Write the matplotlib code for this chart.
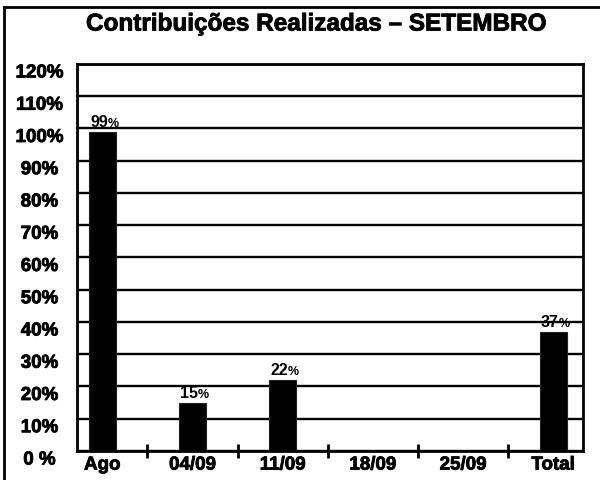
import matplotlib
matplotlib.use("Agg")
import matplotlib.pyplot as plt
import matplotlib.patheffects as pe
from matplotlib.lines import Line2D
from matplotlib.transforms import ScaledTranslation

plt.rcParams['font.family'] = ['Liberation Sans', 'DejaVu Sans']
plt.rcParams['font.weight'] = 'bold'

# Data
categories = ['Ago', '04/09', '11/09', '18/09', '25/09', 'Total']
values = [99, 15, 22, 0, 0, 37]
y_ticks = [0, 10, 20, 30, 40, 50, 60, 70, 80, 90, 100, 110, 120]
y_labels = ['0 %', '10%', '20%', '30%', '40%', '50%', '60%', '70%',
            '80%', '90%', '100%', '110%', '120%']
title = 'Contribuições Realizadas – SETEMBRO'

# slightly heavier text, like the scanned original
heavy = [pe.withStroke(linewidth=0.6, foreground='black')]

fig = plt.figure(figsize=(6, 4.81), dpi=100)
ax = fig.add_axes([0.1283, 0.0603, 0.8433, 0.8046])

x = list(range(len(categories)))
ax.bar(x, values, width=0.3, color='black', edgecolor='#222222', linewidth=0.8, zorder=3)

# bar labels, number with a smaller percent sign
for xi, v in zip(x, values):
    if v <= 0:
        continue
    ax.annotate(str(v), xy=(xi, v), xytext=(4, 4), textcoords='offset points',
                ha='right', va='baseline', fontsize=11.5, fontweight='bold', zorder=4)
    ax.annotate('%', xy=(xi, v), xytext=(4, 4), textcoords='offset points',
                ha='left', va='baseline', fontsize=9, fontweight='bold', zorder=4)

ax.set_xlim(-0.28, 5.33)
ax.set_ylim(0, 120)

# y axis: gridlines every 10%, labels a bit below the lines
ax.set_yticks(y_ticks)
ax.set_yticklabels(y_labels, fontsize=13.5, fontweight='bold', ha='center')
ax.tick_params(axis='y', length=0, pad=27)
shift = ScaledTranslation(0, -7 / 100, fig.dpi_scale_trans)
for lab in ax.get_yticklabels():
    lab.set_transform(lab.get_transform() + shift)
    lab.set_path_effects(heavy)
ax.yaxis.grid(True, color='black', linewidth=1.7, zorder=1)
ax.set_axisbelow(True)

# x axis: separators between categories, names centred under bars
ax.set_xticks([i + 0.5 for i in x[:-1]])
ax.set_xticklabels([])
ax.tick_params(axis='x', which='major', direction='inout', length=10, width=2)
ax.set_xticks(x, minor=True)
ax.set_xticklabels(categories, minor=True, fontsize=13.5, fontweight='bold')
ax.tick_params(axis='x', which='minor', length=0, pad=4)
for lab in ax.get_xticklabels(minor=True):
    lab.set_path_effects(heavy)

for s in ax.spines.values():
    s.set_linewidth(2)
    s.set_color('black')

fig.text(0.527, 0.948, title, ha='center', va='center', fontsize=17.5, fontweight='bold',
         path_effects=heavy)

# outer frame (left and top edges)
fig.add_artist(Line2D([4 / 600, 4 / 600], [0, 1 - 8 / 481], color='black', linewidth=2,
                      transform=fig.transFigure))
fig.add_artist(Line2D([4 / 600, 1], [1 - 8 / 481, 1 - 8 / 481], color='black', linewidth=2,
                      transform=fig.transFigure))

fig.savefig('out.png', dpi=100)
